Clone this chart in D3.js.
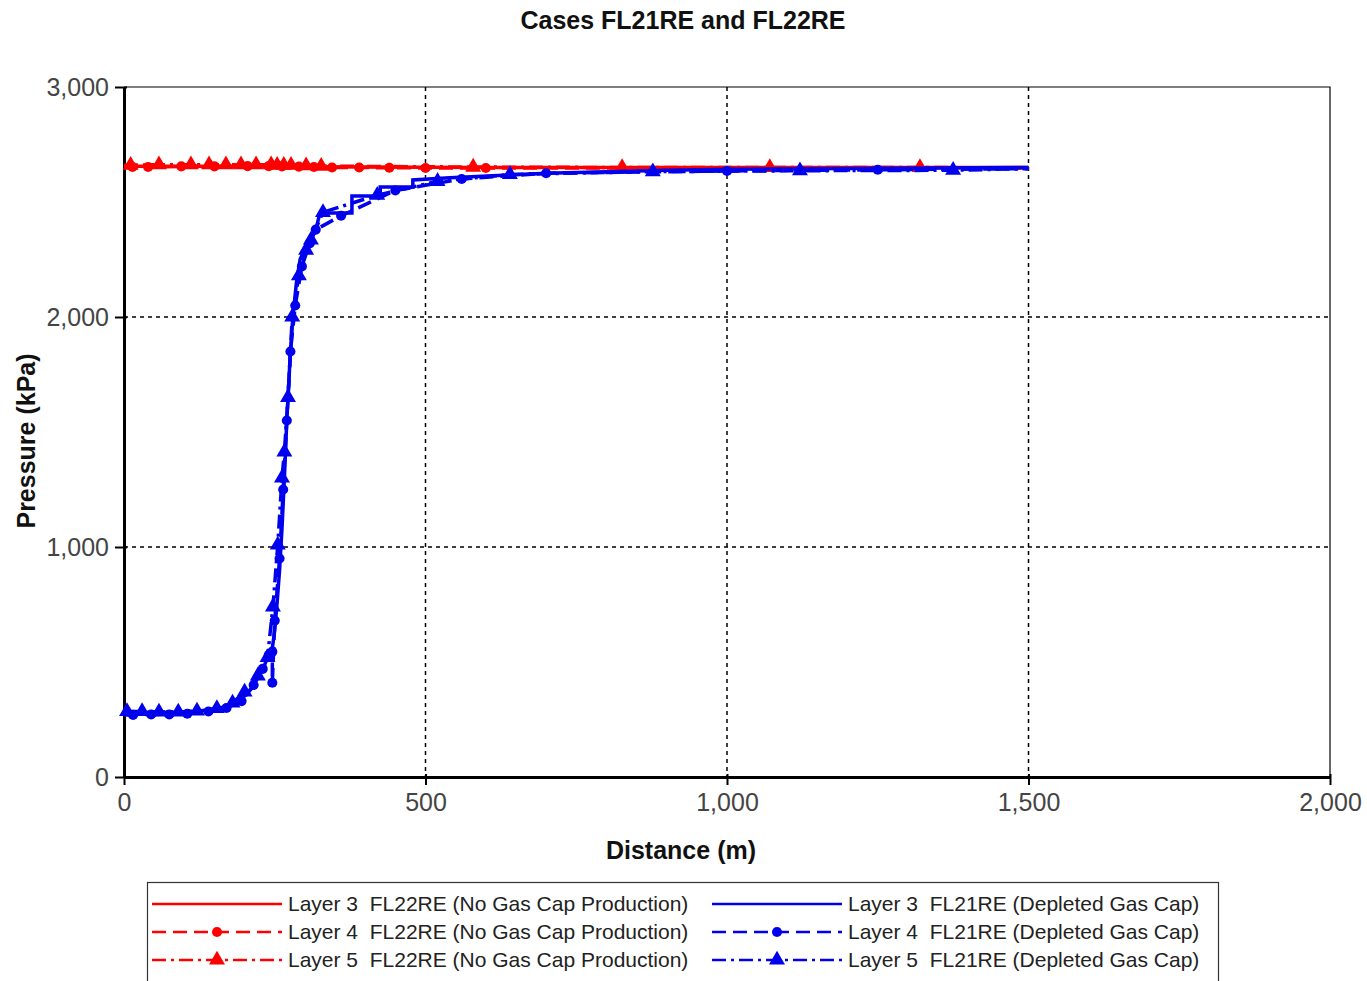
<!DOCTYPE html>
<html>
<head>
<meta charset="utf-8">
<script src="https://cdn.jsdelivr.net/npm/d3@7"></script>
<style>
  body { margin: 0; background: #fff; }
  svg { display: block; font-family: "Liberation Sans", Arial, sans-serif; }
</style>
</head>
<body>
<div id="here"></div>
<script>
// ---- data (distance in m, pressure in kPa) ----
var xTicks = [0, 500, 1000, 1500, 2000];
var yTicks = [0, 1000, 2000, 3000];

// FL22RE (No Gas Cap Production)
var red3Dist = [0, 100, 200, 300, 400, 500, 600, 800, 1000, 1200, 1500];
var red3Pres = [2655, 2655, 2654, 2653, 2652, 2651, 2650, 2650, 2650, 2650, 2650];
var red4Dist = [0, 14, 40, 95, 150, 205, 240, 262, 290, 315, 345, 390, 440, 500, 600, 1500];
var red4Pres = [2652, 2652, 2652, 2655, 2655, 2656, 2656, 2655, 2654, 2652, 2650, 2650, 2649, 2648, 2648, 2648];
var red5Dist = [0, 11, 58, 111, 141, 169, 194, 219, 244, 254, 265, 277, 302, 327, 579, 826, 1071, 1320, 1500];
var red5Pres = [2660, 2660, 2662, 2662, 2662, 2662, 2662, 2662, 2662, 2660, 2660, 2660, 2658, 2656, 2652, 2650, 2650, 2650, 2648];

// FL21RE (Depleted Gas Cap)
var blue3Dist = [0, 40, 80, 120, 150, 175, 195, 210, 222, 232, 240, 246, 250, 254, 258, 262, 266, 270, 275, 280, 286, 292, 300, 308, 318, 325, 378, 378, 425, 425, 479, 479, 540, 620, 700, 800, 900, 1000, 1200, 1500];
var blue3Pres = [280, 280, 282, 286, 295, 310, 340, 380, 430, 480, 530, 560, 640, 760, 900, 1080, 1300, 1550, 1800, 2000, 2150, 2250, 2300, 2340, 2380, 2452, 2452, 2526, 2526, 2565, 2565, 2596, 2605, 2615, 2625, 2632, 2638, 2642, 2646, 2650];
var blue4Dist = [0, 15, 45, 75, 105, 140, 170, 195, 215, 230, 240, 246, 246, 250, 258, 264, 270, 276, 284, 295, 308, 318, 360, 450, 560, 700, 1000, 1250, 1500];
var blue4Pres = [270, 270, 272, 272, 275, 285, 300, 330, 400, 470, 530, 545, 410, 680, 950, 1250, 1550, 1850, 2050, 2220, 2320, 2380, 2440, 2550, 2600, 2625, 2635, 2640, 2645];
var blue5Dist = [0, 5, 30, 58, 90, 121, 154, 180, 200, 222, 238, 247, 255, 262, 266, 272, 279, 290, 302, 310, 330, 420, 520, 640, 877, 1121, 1375, 1500];
var blue5Pres = [285, 285, 285, 283, 283, 287, 298, 322, 370, 440, 520, 740, 1009, 1300, 1413, 1650, 2000, 2180, 2291, 2335, 2455, 2530, 2590, 2620, 2632, 2636, 2638, 2645];

var series = [
  {name: 'Layer 3  FL22RE (No Gas Cap Production)', dist: red3Dist, pres: red3Pres, color: '#ff0000', dash: null, marker: null},
  {name: 'Layer 4  FL22RE (No Gas Cap Production)', dist: red4Dist, pres: red4Pres, color: '#ff0000', dash: '14,7', marker: 'circle'},
  {name: 'Layer 5  FL22RE (No Gas Cap Production)', dist: red5Dist, pres: red5Pres, color: '#ff0000', dash: '14,5,3,5', marker: 'triangle'},
  {name: 'Layer 3  FL21RE (Depleted Gas Cap)', dist: blue3Dist, pres: blue3Pres, color: '#0000ee', dash: null, marker: null},
  {name: 'Layer 4  FL21RE (Depleted Gas Cap)', dist: blue4Dist, pres: blue4Pres, color: '#0000ee', dash: '14,7', marker: 'circle'},
  {name: 'Layer 5  FL21RE (Depleted Gas Cap)', dist: blue5Dist, pres: blue5Pres, color: '#0000ee', dash: '14,5,3,5', marker: 'triangle'}
];

var W = 1367, H = 981;
var pLeft = 124, pRight = 1330, pTop = 87, pBottom = 777;

var x = d3.scaleLinear().domain([0, 2000]).range([pLeft, pRight]);
var y = d3.scaleLinear().domain([0, 3000]).range([pBottom, pTop]);

var svg = d3.select('#here').append('svg')
  .attr('width', W)
  .attr('height', H)
  .style('background', '#fff');

// title
svg.append('text')
  .attr('x', 683).attr('y', 29)
  .attr('text-anchor', 'middle')
  .style('font-size', '25px').style('font-weight', 'bold')
  .attr('fill', '#111')
  .text('Cases FL21RE and FL22RE');

// grid
svg.append('g').selectAll('line').data(xTicks.slice(1, -1)).enter().append('line')
  .attr('x1', function(d) { return x(d); }).attr('x2', function(d) { return x(d); })
  .attr('y1', pTop).attr('y2', pBottom)
  .attr('stroke', '#000').attr('stroke-width', 1.5).attr('stroke-dasharray', '4,4');
svg.append('g').selectAll('line').data(yTicks.slice(1, -1)).enter().append('line')
  .attr('y1', function(d) { return y(d); }).attr('y2', function(d) { return y(d); })
  .attr('x1', pLeft).attr('x2', pRight)
  .attr('stroke', '#000').attr('stroke-width', 1.5).attr('stroke-dasharray', '4,4');

// frame (top, right)
svg.append('path')
  .attr('d', 'M' + pLeft + ',' + pTop + 'H' + pRight + 'V' + pBottom)
  .attr('fill', 'none').attr('stroke', '#000').attr('stroke-width', 1.2);

// axes
var xAxis = svg.append('g').attr('transform', 'translate(0,' + pBottom + ')')
  .call(d3.axisBottom(x).tickValues(xTicks).tickFormat(d3.format(',')).tickSizeInner(8).tickSizeOuter(0).tickPadding(8));
var yAxis = svg.append('g').attr('transform', 'translate(' + pLeft + ',0)')
  .call(d3.axisLeft(y).tickValues(yTicks).tickFormat(d3.format(',')).tickSizeInner(9).tickSizeOuter(0).tickPadding(6));
[xAxis, yAxis].forEach(function(a) {
  a.select('.domain').attr('stroke', '#000').attr('stroke-width', 3);
  a.selectAll('.tick line').attr('stroke', '#000').attr('stroke-width', 2);
  a.selectAll('.tick text').attr('fill', '#444')
    .style('font-size', '25px').style('font-family', '"Liberation Sans", Arial, sans-serif');
});
// ticks cross the axis line a little
xAxis.selectAll('.tick line').attr('y1', -3);
yAxis.selectAll('.tick line').attr('x1', 3);

// axis titles
svg.append('text')
  .attr('x', 681).attr('y', 859)
  .attr('text-anchor', 'middle')
  .style('font-size', '25px').style('font-weight', 'bold')
  .attr('fill', '#111')
  .text('Distance (m)');
svg.append('text')
  .attr('transform', 'translate(35,441) rotate(-90)')
  .attr('text-anchor', 'middle')
  .style('font-size', '25px').style('font-weight', 'bold')
  .attr('fill', '#111')
  .text('Pressure (kPa)');

// lines + markers
var line = d3.line().x(function(d) { return x(d[0]); }).y(function(d) { return y(d[1]); });
var tri = d3.symbol().type(d3.symbolTriangle).size(110);
var circ = d3.symbol().type(d3.symbolCircle).size(80);

var plot = svg.append('g');
series.forEach(function(s) {
  var pts = s.dist.map(function(d, i) { return [d, s.pres[i]]; });
  plot.append('path')
    .datum(pts)
    .attr('d', line)
    .attr('fill', 'none')
    .attr('stroke', s.color)
    .attr('stroke-width', 3.5)
    .attr('stroke-dasharray', s.dash);
  if (s.marker) {
    plot.selectAll(null)
      .data(pts.slice(1, -1))
      .enter().append('path')
      .attr('transform', function(d) { return 'translate(' + x(d[0]) + ',' + y(d[1]) + ')'; })
      .attr('d', s.marker === 'triangle' ? tri : circ)
      .attr('fill', s.color);
  }
});

// legend
var lg = svg.append('g');
lg.append('rect')
  .attr('x', 147.5).attr('y', 882.5).attr('width', 1071).attr('height', 110)
  .attr('fill', '#fff').attr('stroke', '#333').attr('stroke-width', 1.2);
var item = lg.selectAll('.item').data(series).enter().append('g')
  .attr('transform', function(d, i) {
    var col = i < 3 ? 0 : 1, row = i % 3;
    return 'translate(' + (col === 0 ? 152 : 712) + ',' + (904 + row * 28) + ')';
  });
item.append('line')
  .attr('x1', 0).attr('x2', 130).attr('y1', 0).attr('y2', 0)
  .attr('stroke', function(d) { return d.color; })
  .attr('stroke-width', 2.5)
  .attr('stroke-dasharray', function(d) { return d.dash; });
item.filter(function(d) { return d.marker; }).append('path')
  .attr('transform', 'translate(65,0)')
  .attr('d', function(d) { return d.marker === 'triangle' ? tri() : circ(); })
  .attr('fill', function(d) { return d.color; });
item.append('text')
  .attr('x', 136).attr('y', 0).attr('dy', '0.35em')
  .style('font-size', '21px')
  .attr('fill', '#222')
  .style('white-space', 'pre')
  .text(function(d) { return d.name; });
</script>
</body>
</html>
